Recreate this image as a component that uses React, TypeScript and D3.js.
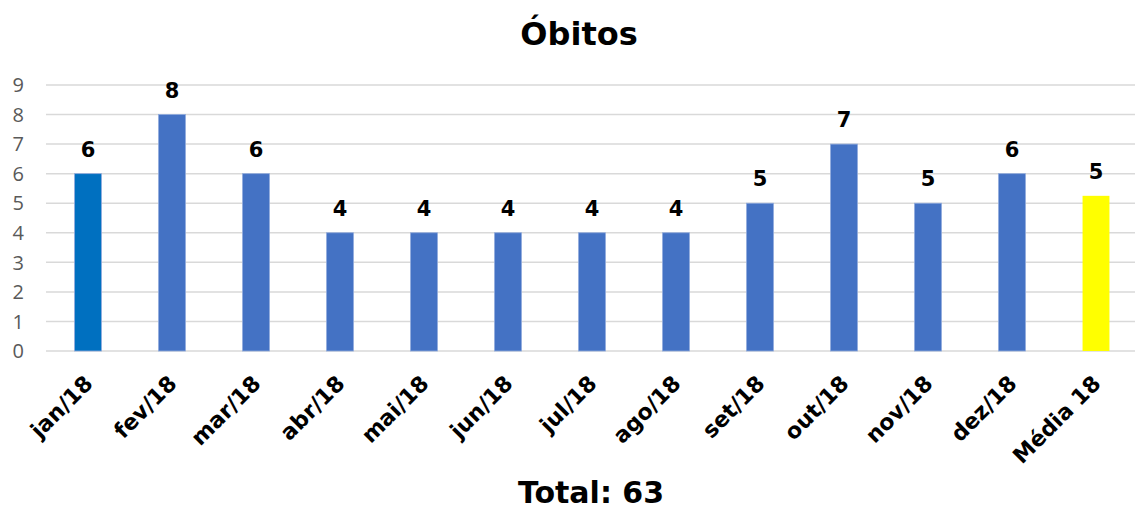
import React, { useRef, useEffect } from 'react';
import * as d3 from 'd3';

const months = ['jan/18', 'fev/18', 'mar/18', 'abr/18', 'mai/18', 'jun/18', 'jul/18', 'ago/18', 'set/18', 'out/18', 'nov/18', 'dez/18'];
const obitos = [6, 8, 6, 4, 4, 4, 4, 4, 5, 7, 5, 6];
const mediaLabel = 'Média 18';
const mediaValue = 5.25;
const yTicks = [0, 1, 2, 3, 4, 5, 6, 7, 8, 9];

const App = () => {
  const chartRef = useRef(null);

  useEffect(() => {
    document.body.style.margin = '0';
    const W = 1135;
    const H = 510;
    const boldFont = '"DejaVu Sans", Verdana, sans-serif';

    const data = months.map((m, i) => ({ label: m, value: obitos[i], color: i === 0 ? '#0070C0' : '#4472C4' }));
    data.push({ label: mediaLabel, value: mediaValue, color: '#FFFF00' });

    d3.select(chartRef.current).select('svg').remove();
    const svg = d3
      .select(chartRef.current)
      .append('svg')
      .attr('width', W)
      .attr('height', H)
      .style('display', 'block');

    const x = d3
      .scaleBand()
      .domain(data.map(d => d.label))
      .range([46, 1138])
      .paddingInner(0.68)
      .paddingOuter(0.34);

    const y = d3.scaleLinear().domain([0, 9]).range([351, 85]);

    // title
    svg
      .append('text')
      .attr('x', 579)
      .attr('y', 45)
      .attr('text-anchor', 'middle')
      .style('font-family', boldFont)
      .style('font-weight', 'bold')
      .style('font-size', '32px')
      .style('fill', '#000')
      .text('Óbitos');

    // gridlines
    svg
      .selectAll('.grid')
      .data(yTicks)
      .enter()
      .append('line')
      .attr('class', 'grid')
      .attr('x1', 46)
      .attr('x2', W)
      .attr('y1', d => y(d))
      .attr('y2', d => y(d))
      .attr('stroke', '#D9D9D9')
      .attr('stroke-width', 1.5);

    // y tick labels
    svg
      .selectAll('.ytick')
      .data(yTicks)
      .enter()
      .append('text')
      .attr('class', 'ytick')
      .attr('x', 24)
      .attr('y', d => y(d))
      .attr('dy', '0.36em')
      .attr('text-anchor', 'end')
      .style('font-family', '"Open Sans", "Liberation Sans", sans-serif')
      .style('font-size', '20px')
      .style('fill', '#595959')
      .text(d => d);

    // bars
    svg
      .selectAll('.bar')
      .data(data)
      .enter()
      .append('rect')
      .attr('class', 'bar')
      .attr('x', d => x(d.label))
      .attr('y', d => y(d.value))
      .attr('width', x.bandwidth())
      .attr('height', d => y(0) - y(d.value))
      .attr('fill', d => d.color)
      .attr('stroke', d => (d.color === '#FFFF00' ? 'none' : '#8FAADC'))
      .attr('stroke-width', 0.8);

    // value labels
    svg
      .selectAll('.val')
      .data(data)
      .enter()
      .append('text')
      .attr('class', 'val')
      .attr('x', d => x(d.label) + x.bandwidth() / 2)
      .attr('y', d => y(d.value) - 17)
      .attr('text-anchor', 'middle')
      .style('font-family', boldFont)
      .style('font-weight', 'bold')
      .style('font-size', '21px')
      .style('fill', '#000')
      .text(d => Math.round(d.value));

    // x labels
    svg
      .selectAll('.xlab')
      .data(data)
      .enter()
      .append('text')
      .attr('class', 'xlab')
      .attr('transform', d => `translate(${x(d.label) + x.bandwidth() / 2 + 6},${385}) rotate(-45)`)
      .attr('text-anchor', 'end')
      .style('font-family', boldFont)
      .style('font-weight', 'bold')
      .style('font-size', '22px')
      .style('fill', '#000')
      .text(d => d.label);

    // total
    svg
      .append('text')
      .attr('x', 591)
      .attr('y', 503)
      .attr('text-anchor', 'middle')
      .style('font-family', boldFont)
      .style('font-weight', 'bold')
      .style('font-size', '30px')
      .style('fill', '#000')
      .text('Total: ' + d3.sum(obitos));
  }, []);

  return <div ref={chartRef}></div>;
};

export default App;
